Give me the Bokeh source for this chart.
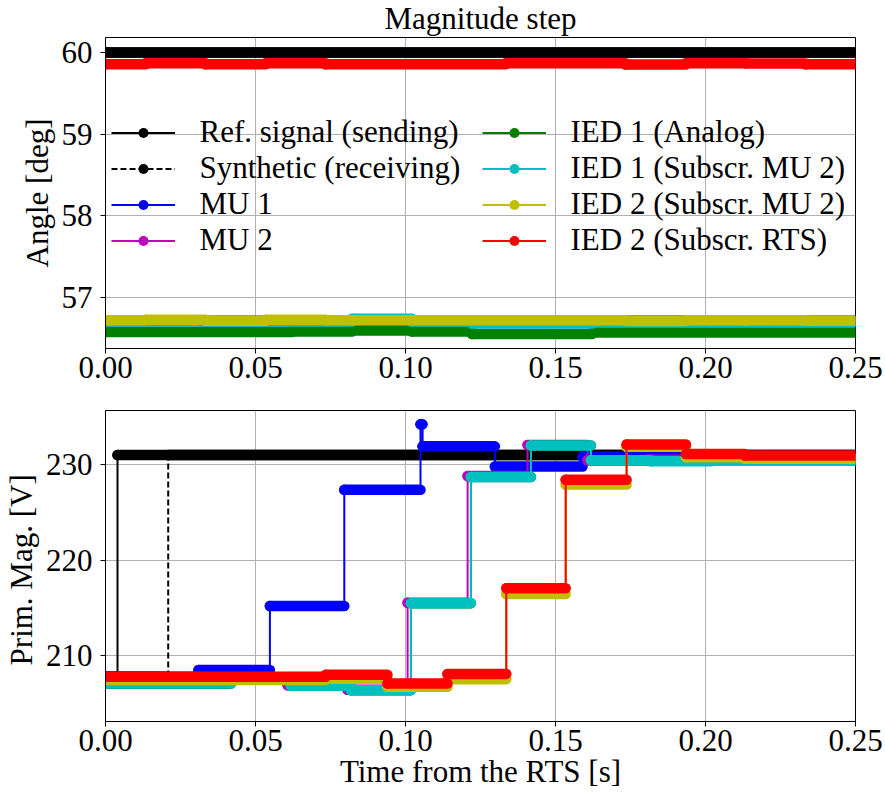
from bokeh.plotting import figure
from bokeh.models import Range1d, FixedTicker, PrintfTickFormatter, Legend, LegendItem
from bokeh.layouts import column
from bokeh.embed import file_html
from bokeh.resources import INLINE

T_END = 0.25
x_ticks = [0.0, 0.05, 0.10, 0.15, 0.20, 0.25]
ang_ticks = [57, 58, 59, 60]
mag_ticks = [210, 220, 230]

labels = ["Ref. signal (sending)", "Synthetic (receiving)", "MU 1", "MU 2",
          "IED 1 (Analog)", "IED 1 (Subscr. MU 2)", "IED 2 (Subscr. MU 2)",
          "IED 2 (Subscr. RTS)"]
colors = ["#000000", "#000000", "#0000ff", "#bf00bf",
          "#008000", "#00bfbf", "#bfbf00", "#ff0000"]

# ---- Angle [deg] (top panel): step onset times and held values ----
ang_ref_t = [0.0]
ang_ref_v = [60.0]
ang_syn_t = [0.0]
ang_syn_v = [60.0]
ang_mu1_t = [0.0]
ang_mu1_v = [56.715]
ang_mu2_t = [0.0]
ang_mu2_v = [56.71]
ang_ied1a_t = [0.0, 0.0622, 0.0822, 0.1022, 0.1222, 0.1622]
ang_ied1a_v = [56.576, 56.584, 56.596, 56.584, 56.552, 56.572]
ang_ied1m_t = [0.0, 0.0822, 0.1022, 0.1222, 0.1622]
ang_ied1m_v = [56.705, 56.740, 56.705, 56.680, 56.700]
ang_ied2m_t = [0.0, 0.0134, 0.0334, 0.0534, 0.0734, 0.1734, 0.1934, 0.2134, 0.2334]
ang_ied2m_v = [56.720, 56.727, 56.715, 56.727, 56.720, 56.713, 56.720, 56.720, 56.715]
ang_ied2r_t = [0.0, 0.0134, 0.0334, 0.0534, 0.0734, 0.1334, 0.1734, 0.1934, 0.2134, 0.2334]
ang_ied2r_v = [59.857, 59.870, 59.855, 59.870, 59.855, 59.870, 59.853, 59.870, 59.867, 59.857]

# ---- Primary magnitude [V] (bottom panel) ----
mag_ref_t = [0.0, 0.0040]
mag_ref_v = [207.8, 231.0]
mag_syn_t = [0.0, 0.0209]
mag_syn_v = [207.8, 231.0]
mag_mu1_t = [0.0, 0.0310, 0.0548, 0.0796, 0.1050, 0.1057, 0.1298, 0.1590]
mag_mu1_v = [207.8, 208.5, 215.2, 227.35, 234.2, 231.9, 229.8, 230.8]
mag_mu2_t = [0.0, 0.0407, 0.0607, 0.0807, 0.1007, 0.1207, 0.1407, 0.1607, 0.1807]
mag_mu2_v = [207.1, 207.6, 206.9, 206.45, 215.55, 228.8, 232.05, 230.45, 230.5]
mag_ied1a_t = [0.0, 0.0418, 0.0618, 0.0818, 0.1018, 0.1218, 0.1418, 0.1618, 0.1818]
mag_ied1a_v = [207.1, 207.6, 206.85, 206.4, 215.5, 228.7, 232.0, 230.45, 230.4]
mag_ied1m_t = [0.0, 0.0418, 0.0618, 0.0818, 0.1018, 0.1218, 0.1418, 0.1618, 0.1818, 0.2018]
mag_ied1m_v = [207.1, 207.6, 206.85, 206.4, 215.5, 228.7, 232.0, 230.45, 230.35, 230.4]
mag_ied2m_t = [0.0, 0.0734, 0.0940, 0.1140, 0.1336, 0.1534, 0.1737, 0.1935, 0.2132]
mag_ied2m_v = [207.45, 207.6, 206.75, 207.55, 216.45, 227.9, 231.85, 230.75, 230.6]
mag_ied2r_t = [0.0, 0.0734, 0.0940, 0.1140, 0.1336, 0.1534, 0.1737, 0.1935, 0.2132]
mag_ied2r_v = [207.8, 208.0, 207.1, 208.1, 217.05, 228.4, 232.1, 231.1, 230.95]

ang_series = [(ang_ref_t, ang_ref_v), (ang_syn_t, ang_syn_v), (ang_mu1_t, ang_mu1_v),
              (ang_mu2_t, ang_mu2_v), (ang_ied1a_t, ang_ied1a_v), (ang_ied1m_t, ang_ied1m_v),
              (ang_ied2m_t, ang_ied2m_v), (ang_ied2r_t, ang_ied2r_v)]
mag_series = [(mag_ref_t, mag_ref_v), (mag_syn_t, mag_syn_v), (mag_mu1_t, mag_mu1_v),
              (mag_mu2_t, mag_mu2_v), (mag_ied1a_t, mag_ied1a_v), (mag_ied1m_t, mag_ied1m_v),
              (mag_ied2m_t, mag_ied2m_v), (mag_ied2r_t, mag_ied2r_v)]

FONT = "Liberation Serif"
FS = "31px"
BAND = 10.5
THIN = 2


def style(p, yticks, fmt):
    p.xaxis.ticker = FixedTicker(ticks=x_ticks)
    p.yaxis.ticker = FixedTicker(ticks=yticks)
    p.xaxis.formatter = PrintfTickFormatter(format="%.2f")
    p.yaxis.formatter = PrintfTickFormatter(format=fmt)
    for ax in (p.xaxis, p.yaxis):
        ax.major_label_text_font = FONT
        ax.major_label_text_font_size = FS
        ax.major_label_text_color = "black"
        ax.axis_label_text_font = FONT
        ax.axis_label_text_font_size = FS
        ax.axis_label_text_font_style = "normal"
        ax.axis_label_text_color = "black"
        ax.major_tick_out = 5
        ax.major_tick_in = 0
        ax.minor_tick_out = 0
        ax.minor_tick_in = 0
        ax.axis_line_color = "black"
        ax.major_tick_line_color = "black"
    p.xaxis.major_label_standoff = 3
    p.yaxis.major_label_standoff = 8
    p.yaxis.axis_label_standoff = 4
    p.xgrid.grid_line_color = "#b0b0b0"
    p.ygrid.grid_line_color = "#b0b0b0"
    p.outline_line_color = "black"
    p.outline_line_width = 1
    p.outline_line_alpha = 1


def draw(p, series):
    items = []
    for k, (t, v) in enumerate(series):
        t_next = list(t[1:]) + [T_END]
        dash = "6 3" if k == 1 else "solid"
        r_line = p.step(x=list(t) + [T_END], y=list(v) + [v[-1]], mode="after",
                        line_color=colors[k], line_width=THIN, line_dash=dash)
        p.segment(x0=list(t), x1=t_next, y0=list(v), y1=list(v),
                  line_color=colors[k], line_width=BAND, line_cap="round")
        r_dot = p.scatter(x=list(t), y=list(v), size=BAND, fill_color=colors[k],
                          line_color=colors[k], line_width=0)
        items.append(LegendItem(label=labels[k], renderers=[r_line, r_dot]))
    return items


p1 = figure(frame_width=750, frame_height=311, x_range=Range1d(0, T_END),
            y_range=Range1d(56.375, 60.184), output_backend="svg", toolbar_location=None,
            min_border_left=103, min_border_right=32, min_border_top=37, min_border_bottom=47,
            title="Magnitude step")
p1.title.align = "center"
p1.title.vertical_align = "top"
p1.title.text_font = FONT
p1.title.text_font_size = FS
p1.title.text_font_style = "normal"
p1.title.text_color = "black"
p1.title.standoff = 0
style(p1, ang_ticks, "%d")
p1.yaxis.axis_label = "Angle [deg]"
items = draw(p1, ang_series)

for grp, xloc in ((items[:4], 5.5), (items[4:], 376.5)):
    leg = Legend(items=grp, location=(xloc, 90))
    leg.label_text_font = FONT
    leg.label_text_font_size = FS
    leg.label_text_color = "black"
    leg.glyph_width = 64
    leg.glyph_height = 25
    leg.label_height = 35
    leg.label_standoff = 25
    leg.spacing = 0
    leg.padding = 0
    leg.margin = 0
    leg.background_fill_alpha = 0
    leg.border_line_alpha = 0
    p1.add_layout(leg)

p2 = figure(frame_width=750, frame_height=311, x_range=Range1d(0, T_END),
            y_range=Range1d(203.12, 235.65), output_backend="svg", toolbar_location=None,
            min_border_left=103, min_border_right=32, min_border_top=15, min_border_bottom=78)
style(p2, mag_ticks, "%d")
p2.yaxis.axis_label = "Prim. Mag.  [V]"
p2.xaxis.axis_label = "Time from the RTS [s]"
p2.xaxis.axis_label_standoff = 0
draw(p2, mag_series)

layout = column(p1, p2, spacing=0)
open("out.html", "w").write(file_html(layout, INLINE))
